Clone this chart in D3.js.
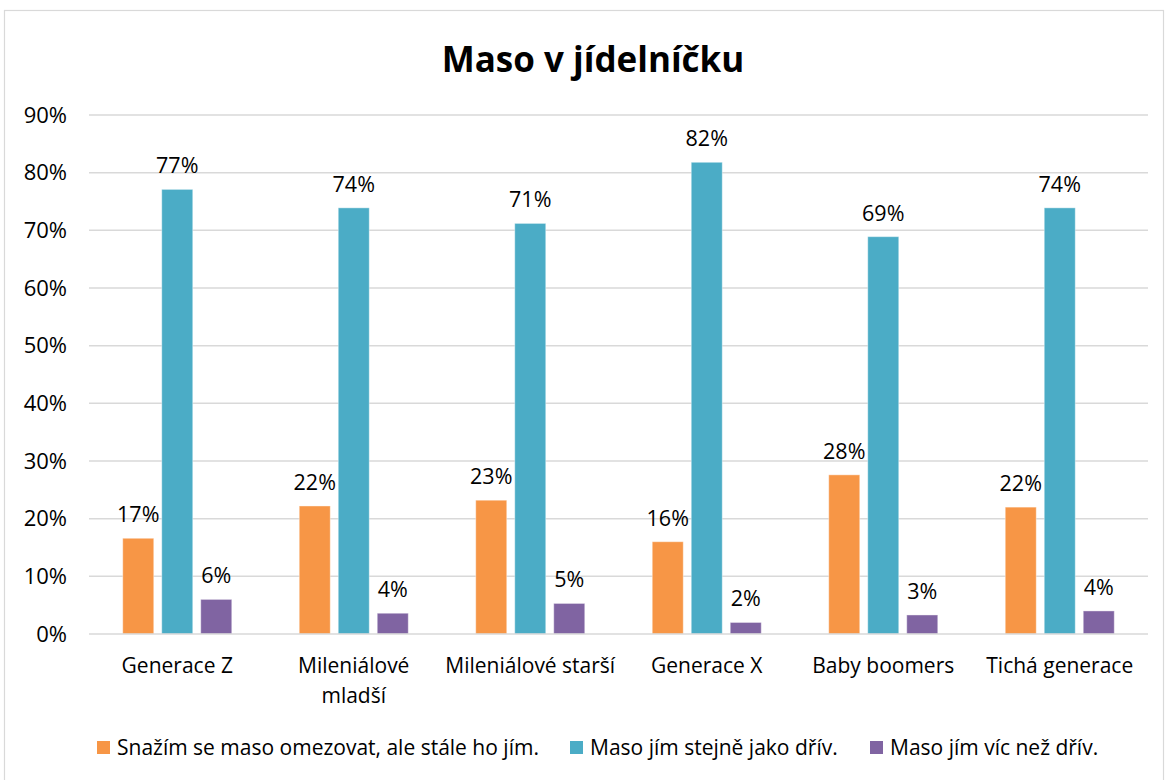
<!DOCTYPE html>
<html>
<head>
<meta charset="utf-8">
<script src="https://cdn.jsdelivr.net/npm/d3@7"></script>
<style>
  body { margin: 0; background: #fff; }
  svg text { font-family: "Open Sans", "Liberation Sans", sans-serif; fill: #000; }
</style>
</head>
<body>
<svg id="chart" width="1168" height="780"></svg>
<script>
// data
const categories = ["Generace Z", "Mileniálové\nmladší", "Mileniálové starší", "Generace X", "Baby boomers", "Tichá generace"];
const seriesNames = ["Snažím se maso omezovat, ale stále ho jím.", "Maso jím stejně jako dřív.", "Maso jím víc než dřív."];
const omezuji = [0.166, 0.222, 0.232, 0.160, 0.276, 0.220];
const stejne = [0.771, 0.739, 0.712, 0.818, 0.689, 0.739];
const vic = [0.060, 0.036, 0.053, 0.020, 0.033, 0.040];
const yTicks = [0, 0.1, 0.2, 0.3, 0.4, 0.5, 0.6, 0.7, 0.8, 0.9];
const colors = ["#F79646", "#4BACC6", "#8064A2"];

const seriesValues = [omezuji, stejne, vic];

const svg = d3.select('#chart');

// chart frame
svg.append('rect')
  .attr('x', 4.5).attr('y', 10.5)
  .attr('width', 1159).attr('height', 790)
  .attr('fill', '#fff')
  .attr('stroke', '#d9d9d9')
  .attr('stroke-width', 1.2);

svg.append('text')
  .attr('x', 593).attr('y', 72)
  .attr('text-anchor', 'middle')
  .style('font-size', '35px')
  .style('font-weight', 'bold')
  .text('Maso v jídelníčku');

const x = d3.scaleBand().domain(d3.range(categories.length)).range([89, 1148]);
const xInner = d3.scaleBand().domain(d3.range(3)).range([0, x.bandwidth()])
  .paddingInner(0.205).paddingOuter(0.865);
const y = d3.scaleLinear().domain([0, 0.9]).range([634, 115]);

// gridlines
svg.append('g').selectAll('line')
  .data(yTicks.slice(1))
  .enter().append('line')
  .attr('x1', 89).attr('x2', 1148)
  .attr('y1', d => y(d)).attr('y2', d => y(d))
  .attr('stroke', '#d9d9d9')
  .attr('stroke-width', 1.5);

// y axis labels
const yAxis = svg.append('g')
  .attr('transform', 'translate(89,0)')
  .call(d3.axisLeft(y).tickValues(yTicks).tickFormat(d3.format('.0%')).tickSize(0).tickPadding(22));
yAxis.select('.domain').remove();
yAxis.selectAll('text').style('font-size', '22px').attr('fill', '#000');

// bars
const groups = svg.append('g').selectAll('g')
  .data(seriesValues)
  .enter().append('g')
  .attr('fill', (d, i) => colors[i]);

groups.each(function(vals, s) {
  const g = d3.select(this);
  g.selectAll('rect')
    .data(vals)
    .enter().append('rect')
    .attr('x', (d, i) => x(i) + xInner(s))
    .attr('y', d => y(d))
    .attr('width', xInner.bandwidth())
    .attr('height', d => y(0) - y(d))
    .attr('stroke', '#fff')
    .attr('stroke-opacity', 0.4)
    .attr('stroke-width', 1);

  g.selectAll('text')
    .data(vals)
    .enter().append('text')
    .attr('x', (d, i) => x(i) + xInner(s) + xInner.bandwidth() / 2)
    .attr('y', d => y(d) - 16)
    .attr('text-anchor', 'middle')
    .style('font-size', '21.5px')
    .style('fill', '#000')
    .text(d => d3.format('.0%')(d));
});

// x axis line
svg.append('line')
  .attr('x1', 89).attr('x2', 1148)
  .attr('y1', y(0)).attr('y2', y(0))
  .attr('stroke', '#d9d9d9')
  .attr('stroke-width', 1.5);

// category labels
const catLabels = svg.append('g').selectAll('text')
  .data(categories)
  .enter().append('text')
  .attr('text-anchor', 'middle')
  .attr('x', (d, i) => x(i) + x.bandwidth() / 2)
  .attr('y', 673)
  .style('font-size', '21px');
catLabels.each(function(d) {
  const t = d3.select(this);
  d.split('\n').forEach((line, k) => {
    t.append('tspan')
      .attr('x', t.attr('x'))
      .attr('dy', k === 0 ? 0 : 30)
      .text(line);
  });
});

// legend
const legendX = [97, 570, 870];
const legend = svg.append('g').selectAll('g')
  .data(seriesNames)
  .enter().append('g')
  .attr('transform', (d, i) => `translate(${legendX[i]},741)`);
legend.append('rect')
  .attr('width', 13).attr('height', 13)
  .attr('fill', (d, i) => colors[i]);
legend.append('text')
  .attr('x', 20).attr('y', 14)
  .style('font-size', '21px')
  .text(d => d);
</script>
</body>
</html>
